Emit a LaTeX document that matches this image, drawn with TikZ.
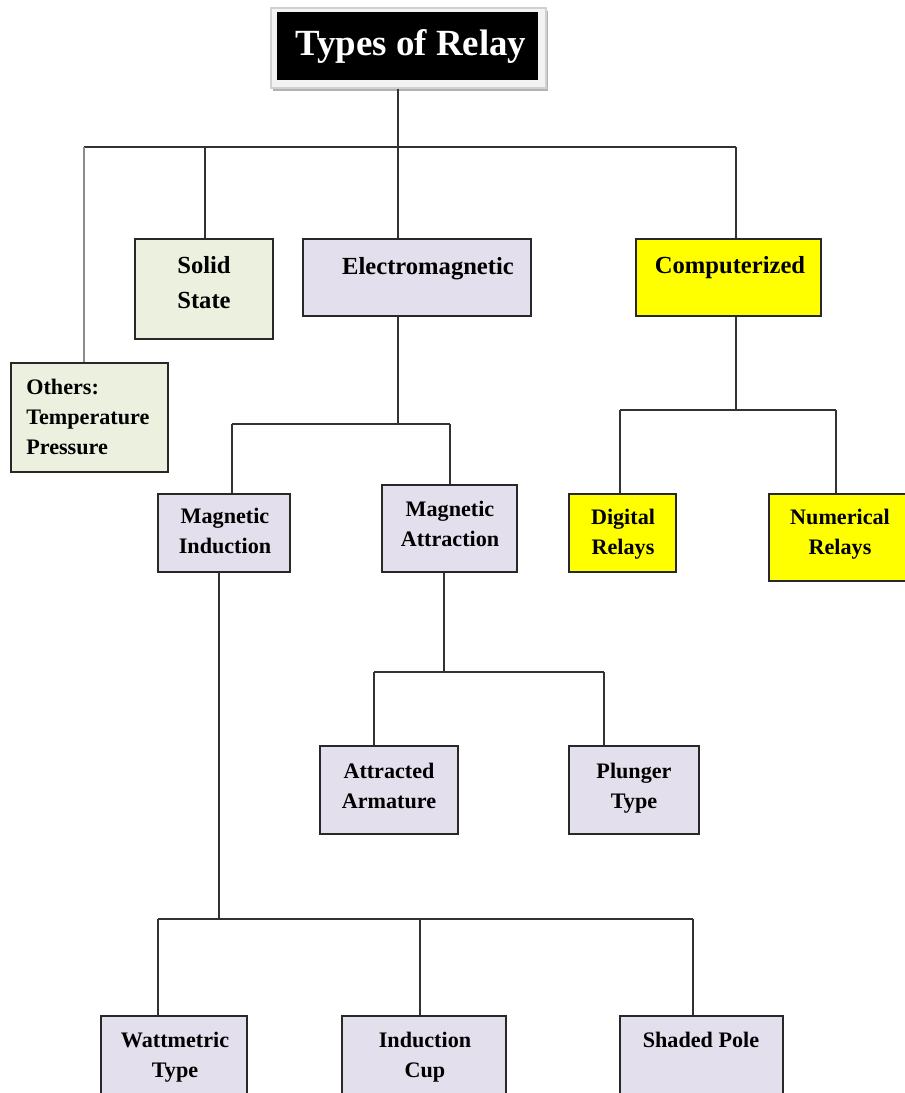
\documentclass[tikz,border=0pt]{standalone}
\usepackage{fontspec}
\setmainfont{Liberation Serif}
\usepackage{tikz}
\usetikzlibrary{positioning, calc, shadows}
\definecolor{boxline}{RGB}{40,40,40}
\definecolor{wirecol}{RGB}{50,50,50}
\definecolor{softgray}{RGB}{140,140,140}
\definecolor{fillgreen}{RGB}{235,241,222}
\definecolor{filllav}{RGB}{228,223,236}
\definecolor{fillyel}{RGB}{255,255,0}
\definecolor{framegray}{RGB}{242,242,242}
\tikzset{
  relbox/.style={draw=boxline, line width=0.85pt, inner sep=0pt},
  sz/.style 2 args={minimum width=#1*0.02cm, minimum height=#2*0.02cm},
  wire/.style={draw=wirecol, line width=0.8pt},
  lbl/.style={font=\fontsize{14}{17}\selectfont\bfseries, align=center, inner sep=0pt, anchor=north},
  sublbl/.style={lbl, font=\fontsize{12.6}{17}\selectfont\bfseries}
}

\begin{document}
\begin{tikzpicture}[x=0.02cm, y=-0.02cm]
  \path[use as bounding box] (0,0) rectangle (905,1093);
  \clip (0,0) rectangle (905,1093);

  % ---------------- title ----------------
  \node[draw=black!18, fill=framegray, line width=0.6pt, sz={275}{80},
        drop shadow={shadow xshift=0.03cm, shadow yshift=-0.06cm, fill=black!30, opacity=1}]
        (tf) at (408.5,48) {};
  \node[fill=black, sz={261}{68}, text=white, font=\fontsize{21}{25}\selectfont\bfseries]
        (tb) at (407.5,46) {\hspace{0.14cm}Types of Relay};

  % ---------------- first row ----------------
  \node[relbox, fill=fillgreen, sz={138}{100}] (ss) at (204,289) {};
  \node[lbl, font=\fontsize{14}{20}\selectfont\bfseries] (ss-t) at (204,256) {Solid\\State};

  \node[relbox, fill=filllav, sz={228}{77}] (em) at (417,277.5) {};
  \node[lbl] (em-t) at (428,257) {Electromagnetic};

  \node[relbox, fill=fillyel, sz={185}{77}] (cz) at (728.5,277.5) {};
  \node[lbl] (cz-t) at (730,256) {Computerized};

  \node[relbox, fill=fillgreen, sz={157}{109}] (ot) at (89.5,417.5) {};
  \node[sublbl, align=left, anchor=north west] (ot-t) at (26,379) {Others:\\Temperature\\Pressure};

  % ---------------- second row ----------------
  \node[relbox, fill=filllav, sz={132}{78}] (mi) at (224,533) {};
  \node[sublbl] (mi-t) at (225,508) {Magnetic\\Induction};

  \node[relbox, fill=filllav, sz={135}{87}] (ma) at (449.5,528.5) {};
  \node[sublbl] (ma-t) at (450,501) {Magnetic\\Attraction};

  \node[relbox, fill=fillyel, sz={107}{78}] (dr) at (622.5,533) {};
  \node[sublbl] (dr-t) at (623,509) {Digital\\Relays};

  \node[relbox, fill=fillyel, sz={143}{87}] (nr) at (840.5,537.5) {};
  \node[sublbl] (nr-t) at (840,509) {Numerical\\Relays};

  % ---------------- third row ----------------
  \node[relbox, fill=filllav, sz={138}{88}] (aa) at (389,790) {};
  \node[sublbl] (aa-t) at (389,763) {Attracted\\Armature};

  \node[relbox, fill=filllav, sz={130}{88}] (pt) at (634,790) {};
  \node[sublbl] (pt-t) at (634,763) {Plunger\\Type};

  % ---------------- bottom row ----------------
  \node[relbox, fill=filllav, sz={146}{84}] (wt) at (174,1058) {};
  \node[sublbl] (wt-t) at (175,1032) {Wattmetric\\Type};

  \node[relbox, fill=filllav, sz={164}{84}] (ic) at (424,1058) {};
  \node[sublbl] (ic-t) at (425,1032) {Induction\\Cup};

  \node[relbox, fill=filllav, sz={163}{84}] (sp) at (701.5,1058) {};
  \node[sublbl] (sp-t) at (701,1032) {Shaded Pole};

  % ---------------- connectors ----------------
  \coordinate (j0) at (398,147);
  \coordinate (jL) at (84,147);
  \coordinate (jS) at (205,147);
  \coordinate (jR) at (736,147);
  \draw[wire] (tf.south -| j0) -- (j0);
  \draw[wire] (jL) -- (jR);
  \draw[wire, draw=softgray] (jL) -- (jL |- ot.north);
  \draw[wire] (jS) -- (jS |- ss.north);
  \draw[wire] (j0) -- (j0 |- em.north);
  \draw[wire] (jR) -- (jR |- cz.north);

  % electromagnetic
  \coordinate (jE) at (398,424);
  \coordinate (jEL) at (232,424);
  \coordinate (jER) at (450,424);
  \draw[wire] (em.south -| jE) -- (jE);
  \draw[wire] (jEL) -- (jER);
  \draw[wire] (jEL) -- (jEL |- mi.north);
  \draw[wire] (jER) -- (jER |- ma.north);

  % computerized
  \coordinate (jC) at (736,410);
  \coordinate (jCL) at (620,410);
  \coordinate (jCR) at (836,410);
  \draw[wire] (cz.south -| jC) -- (jC);
  \draw[wire] (jCL) -- (jCR);
  \draw[wire] (jCL) -- (jCL |- dr.north);
  \draw[wire] (jCR) -- (jCR |- nr.north);

  % magnetic attraction
  \coordinate (jA) at (444,672);
  \coordinate (jAL) at (374,672);
  \coordinate (jAR) at (604,672);
  \draw[wire] (ma.south -| jA) -- (jA);
  \draw[wire] (jAL) -- (jAR);
  \draw[wire] (jAL) -- (jAL |- aa.north);
  \draw[wire] (jAR) -- (jAR |- pt.north);

  % magnetic induction
  \coordinate (jI) at (219,919);
  \coordinate (jIL) at (158,919);
  \coordinate (jIM) at (420,919);
  \coordinate (jIR) at (693,919);
  \draw[wire] (mi.south -| jI) -- (jI);
  \draw[wire] (jIL) -- (jIR);
  \draw[wire] (jIL) -- (jIL |- wt.north);
  \draw[wire] (jIM) -- (jIM |- ic.north);
  \draw[wire] (jIR) -- (jIR |- sp.north);
\end{tikzpicture}
\end{document}
